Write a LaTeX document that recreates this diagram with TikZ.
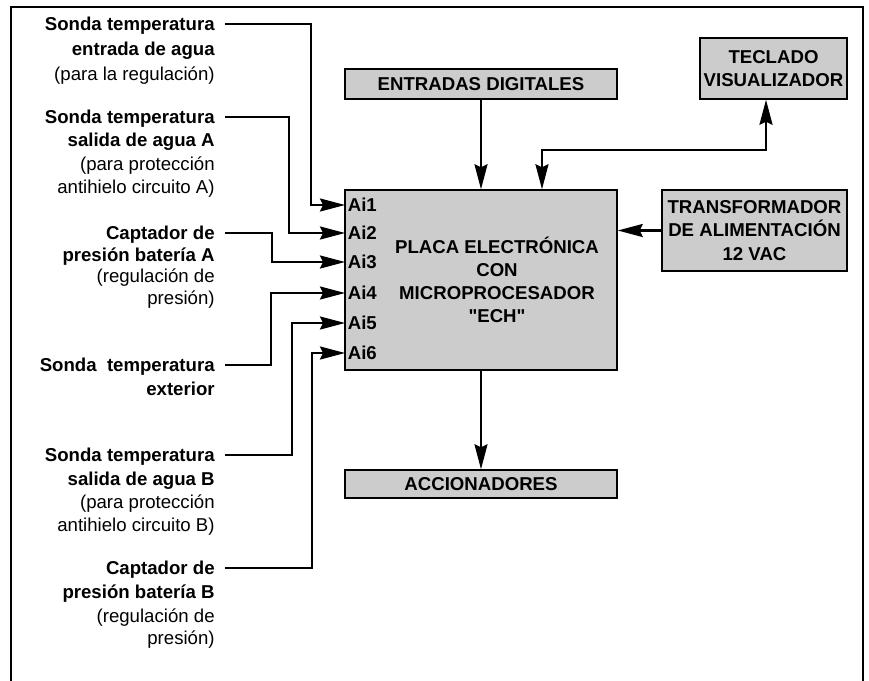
\documentclass[tikz,border=0pt]{standalone}
\usepackage{fontspec}
\setmainfont{Liberation Sans}[Ligatures=TeXOff]
\usetikzlibrary{arrows.meta}
\definecolor{boxgray}{RGB}{204,204,204}
\newcommand{\figfont}{\fontsize{10.6}{13.2}\selectfont}

\tikzset{
  box/.style={draw=black,line width=0.03cm,fill=boxgray,font=\figfont\bfseries,align=center,inner sep=0pt},
  conn/.style={line width=0.045cm,-{Stealth[length=0.5cm,width=0.26cm,inset=0.06cm]}},
  both/.style={line width=0.045cm,{Stealth[length=0.5cm,width=0.26cm,inset=0.06cm]}-{Stealth[length=0.5cm,width=0.26cm,inset=0.06cm]}},
  lbl/.style={anchor=east,inner xsep=0.2cm,inner ysep=0pt,text height=0.72em,text depth=0pt,font=\figfont\bfseries},
  note/.style={lbl,font=\figfont\mdseries},
  ain/.style={anchor=west,inner xsep=0.05cm,font=\figfont\bfseries}
}

\begin{document}
\begin{tikzpicture}[x=0.02cm,y=-0.02cm]
\useasboundingbox (0,0) rectangle (869,680);
\draw[line width=0.03cm] (11,690) -- (11,7) -- (863,7) -- (863,690);

% blocks
\node[box,minimum width=5.44cm,minimum height=0.6cm] (entradas) at (481,84) {ENTRADAS DIGITALES};
\node[box,minimum width=2.94cm,minimum height=1.22cm] (teclado) at (773.5,68.5) {TECLADO\\VISUALIZADOR};
\node[box,minimum width=3.7cm,minimum height=1.62cm] (trafo) at (754.5,230.5) {TRANSFORMADOR\\DE ALIMENTACIÓN\\12 VAC};
\node[box,minimum width=5.44cm,minimum height=0.56cm] (accion) at (481,484) {ACCIONADORES};
\node[box,minimum width=5.44cm,minimum height=3.6cm] (placa) at (481,280) {};
\node[font=\figfont\bfseries,align=center] (placatxt) at (497,280) {PLACA ELECTRÓNICA\\CON\\MICROPROCESADOR\\"ECH"};

% analog inputs
\node[ain] (ai1) at (345,205) {Ai1};
\node[ain] (ai2) at (345,233) {Ai2};
\node[ain] (ai3) at (345,262) {Ai3};
\node[ain] (ai4) at (345,293) {Ai4};
\node[ain] (ai5) at (345,323) {Ai5};
\node[ain] (ai6) at (345,353) {Ai6};

% sensors
\node[lbl] (s1) at (225,24) {Sonda temperatura};
\node[lbl] (s1b) at (225,49) {entrada de agua};
\node[note] (s1c) at (225,74) {(para la regulación)};

\node[lbl] (s2) at (225,117) {Sonda temperatura};
\node[lbl] (s2b) at (225,140) {salida de agua A};
\node[note] (s2c) at (225,164) {(para protección};
\node[note] (s2d) at (225,187) {antihielo circuito A)};

\node[lbl] (s3) at (225,233) {Captador de};
\node[lbl] (s3b) at (225,255) {presión batería A};
\node[note] (s3c) at (225,276) {(regulación de};
\node[note] (s3d) at (225,298) {presión)};

\node[lbl] (s4) at (225,365) {Sonda\ \ temperatura};
\node[lbl] (s4b) at (225,389) {exterior};

\node[lbl] (s5) at (225,455) {Sonda temperatura};
\node[lbl] (s5b) at (225,479) {salida de agua B};
\node[note] (s5c) at (225,502) {(para protección};
\node[note] (s5d) at (225,525) {antihielo circuito B)};

\node[lbl] (s6) at (225,568) {Captador de};
\node[lbl] (s6b) at (225,592) {presión batería B};
\node[note] (s6c) at (225,616) {(regulación de};
\node[note] (s6d) at (225,638) {presión)};

% connections
\draw[conn] (s1.east) -- ++(86,0) |- (ai1.west);
\draw[conn] (s2.east) -- ++(64,0) |- (ai2.west);
\draw[conn] (s3.east) -- ++(47,0) |- (ai3.west);
\draw[conn] (s4.east) -- ++(46,0) |- (ai4.west);
\draw[conn] (s5.east) -- ++(67,0) |- (ai5.west);
\draw[conn] (s6.east) -- ++(87,0) |- (ai6.west);

\draw[conn] (entradas.south) -- (placa.north);
\draw[conn] (trafo.west) -- (trafo.west -| placa.east);
\draw[conn] (placa.south) -- (accion.north);
\draw[both] ([xshift=1.22cm]placa.north) -- ++(0,-39) -| ([xshift=-0.15cm]teclado.south);
\end{tikzpicture}
\end{document}
